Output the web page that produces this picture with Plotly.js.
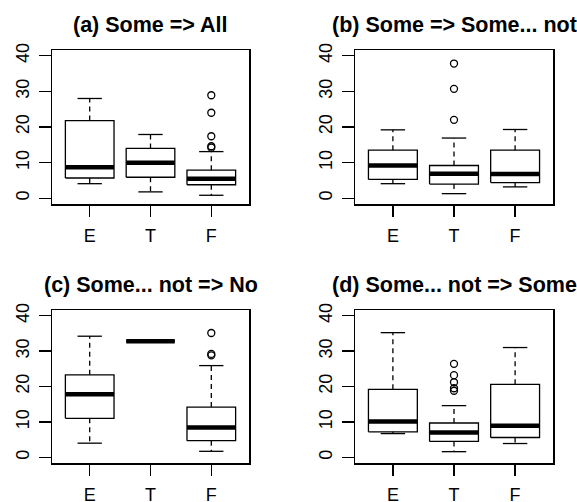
<!DOCTYPE html>
<html>
<head>
<meta charset="utf-8">
<script src="https://cdn.plot.ly/plotly-3.0.1.min.js"></script>
<style>html,body{margin:0;padding:0;background:#fff;}#chart{width:577px;height:502px;}</style>
</head>
<body>
<div id="chart"></div>
<script>
// ---- data ----
var categories = ["E", "T", "F"];
var panelTitles = ["(a) Some => All", "(b) Some => Some... not", "(c) Some... not => No", "(d) Some... not => Some"];
var yTicks = [0, 10, 20, 30, 40];

// per panel: [E, T, F]
var lowerWhisker = [
  [4.1, 1.8, 0.85],
  [4.1, 1.3, 3.2],
  [4.0, 32.8, 1.7],
  [6.7, 1.6, 3.9]
];
var q1 = [
  [5.7, 5.9, 3.8],
  [5.3, 4.0, 4.4],
  [11.0, 32.8, 4.7],
  [7.2, 4.5, 5.6]
];
var medians = [
  [8.7, 10.0, 5.5],
  [9.2, 6.9, 6.8],
  [17.8, 32.8, 8.4],
  [10.1, 7.0, 8.9]
];
var q3 = [
  [21.8, 14.0, 7.9],
  [13.5, 9.2, 13.5],
  [23.3, 32.8, 14.2],
  [19.2, 9.7, 20.6]
];
var upperWhisker = [
  [28.0, 17.9, 13.1],
  [19.2, 16.9, 19.3],
  [34.2, 32.8, 25.9],
  [35.2, 14.6, 31.0]
];
var outliers = [
  [[], [], [28.9, 24.0, 17.4, 14.6, 14.2]],
  [[], [37.8, 30.7, 22.0], []],
  [[], [], [35.1, 29.2, 28.8]],
  [[], [26.4, 23.2, 21.2, 19.5, 18.8], []]
];

// ---- styling ----
var FONT = "Liberation Sans, Arial, Helvetica, sans-serif";
var W = 577, H = 502;
var panelPx = [
  {x0: 52, x1: 249, y0: 50, y1: 204},
  {x0: 355, x1: 553, y0: 50, y1: 204},
  {x0: 52, x1: 249, y0: 310, y1: 463},
  {x0: 355, x1: 553, y0: 310, y1: 463}
];
var halfBox = 0.4, halfCap = 0.2;

var traces = [];
var layout = {
  width: W, height: H,
  margin: {l: 0, r: 0, t: 0, b: 0},
  paper_bgcolor: "#fff", plot_bgcolor: "#fff",
  showlegend: false,
  font: {family: FONT, color: "#000"},
  annotations: []
};

for (var p = 0; p < 4; p++) {
  var sfx = p === 0 ? "" : String(p + 1);
  var xa = "x" + sfx, ya = "y" + sfx;
  var solidX = [], solidY = [], dashX = [], dashY = [], medX = [], medY = [], outX = [], outY = [];
  for (var i = 0; i < 3; i++) {
    var c = i + 1;
    // box
    solidX.push(c - halfBox, c + halfBox, c + halfBox, c - halfBox, c - halfBox, null);
    solidY.push(q1[p][i], q1[p][i], q3[p][i], q3[p][i], q1[p][i], null);
    // caps
    solidX.push(c - halfCap, c + halfCap, null, c - halfCap, c + halfCap, null);
    solidY.push(upperWhisker[p][i], upperWhisker[p][i], null, lowerWhisker[p][i], lowerWhisker[p][i], null);
    // whiskers
    dashX.push(c, c, null, c, c, null);
    dashY.push(q3[p][i], upperWhisker[p][i], null, q1[p][i], lowerWhisker[p][i], null);
    // median
    medX.push(c - halfBox, c + halfBox, null);
    medY.push(medians[p][i], medians[p][i], null);
    outliers[p][i].forEach(function (v) { outX.push(c); outY.push(v); });
  }
  traces.push({type: "scatter", mode: "lines", x: dashX, y: dashY, xaxis: xa, yaxis: ya,
    line: {color: "#000", width: 1.3, dash: "5px,4px"}, hoverinfo: "skip"});
  traces.push({type: "scatter", mode: "lines", x: solidX, y: solidY, xaxis: xa, yaxis: ya,
    line: {color: "#000", width: 1.3}, hoverinfo: "skip"});
  traces.push({type: "scatter", mode: "lines", x: medX, y: medY, xaxis: xa, yaxis: ya,
    line: {color: "#000", width: 4.5}, hoverinfo: "skip"});
  traces.push({type: "scatter", mode: "markers", x: outX, y: outY, xaxis: xa, yaxis: ya,
    marker: {symbol: "circle-open", size: 7, color: "#000", line: {width: 1.3, color: "#000"}}, hoverinfo: "skip"});

  var px = panelPx[p];
  layout["xaxis" + sfx] = {
    domain: [px.x0 / W, px.x1 / W],
    anchor: ya,
    range: [0.38, 3.62],
    tickmode: "array", tickvals: [1, 2, 3], ticktext: categories,
    ticks: "outside", ticklen: 11, tickwidth: 1.3, tickcolor: "#000",
    ticklabelstandoff: 4,
    showline: true, linecolor: "#000", linewidth: 1.5, mirror: true,
    showgrid: false, zeroline: false,
    tickfont: {family: FONT, size: 18, color: "#000"},
    fixedrange: true
  };
  layout["yaxis" + sfx] = {
    domain: [1 - px.y1 / H, 1 - px.y0 / H],
    anchor: xa,
    range: [-1.6, 41.6],
    tickmode: "array", tickvals: yTicks, ticktext: yTicks.map(String),
    ticks: "outside", ticklen: 12, tickwidth: 1.3, tickcolor: "#000",
    tickangle: -90,
    ticklabelstandoff: 2,
    showline: true, linecolor: "#000", linewidth: 1.5, mirror: true,
    showgrid: false, zeroline: false,
    tickfont: {family: FONT, size: 18, color: "#000"},
    fixedrange: true
  };
  layout.annotations.push({
    text: "<b>" + panelTitles[p].replace(/>/g, "&gt;") + "</b>",
    xref: "paper", yref: "paper",
    x: ((px.x0 + px.x1) / 2) / W, y: 1 - (px.y0 - 25) / H,
    xanchor: "center", yanchor: "middle", showarrow: false,
    font: {family: FONT, size: 21.5, color: "#000"}
  });
}

Plotly.newPlot("chart", traces, layout, {displayModeBar: false, staticPlot: true});
</script>
</body>
</html>
